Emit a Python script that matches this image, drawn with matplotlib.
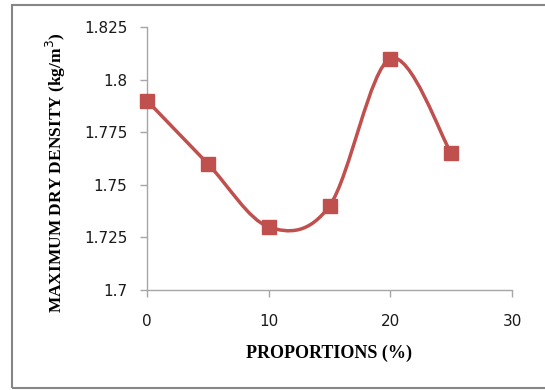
import numpy as np
import matplotlib.pyplot as plt
from matplotlib.path import Path
from matplotlib.patches import PathPatch, Rectangle

proportions = [0, 5, 10, 15, 20, 25]
max_dry_density = [1.79, 1.76, 1.73, 1.74, 1.81, 1.765]
x_ticks = [0, 10, 20, 30]
y_ticks = [1.7, 1.725, 1.75, 1.775, 1.8, 1.825]
y_tick_labels = ["1.7", "1.725", "1.75", "1.775", "1.8", "1.825"]

red = "#C0504D"
axis_grey = "#A6A6A6"

fig = plt.figure(figsize=(5.45, 3.9), dpi=100)
ax = fig.add_axes([147 / 545, 1 - 290 / 390, 365 / 545, 263 / 390])

# smoothed line: cubic bezier segments (catmull-rom style control points)
pts = np.column_stack([proportions, max_dry_density])
ext = np.vstack([pts[0], pts, pts[-1]])
verts = [tuple(pts[0])]
codes = [Path.MOVETO]
for i in range(len(pts) - 1):
    p0, p1, p2, p3 = ext[i], ext[i + 1], ext[i + 2], ext[i + 3]
    c1 = p1 + (p2 - p0) / 6
    c2 = p2 - (p3 - p1) / 6
    verts += [tuple(c1), tuple(c2), tuple(p2)]
    codes += [Path.CURVE4] * 3
ax.add_patch(PathPatch(Path(verts, codes), facecolor="none", edgecolor=red,
                       lw=2.5, capstyle="round", zorder=2, clip_on=False))
ax.plot(proportions, max_dry_density, ls="none", marker="s", ms=10,
        color=red, zorder=3, clip_on=False)

ax.set_xlim(0, 30)
ax.set_ylim(1.7, 1.825)
ax.set_xticks(x_ticks)
ax.set_yticks(y_ticks)
ax.set_yticklabels(y_tick_labels)

for side in ["top", "right"]:
    ax.spines[side].set_visible(False)
for side in ["left", "bottom"]:
    ax.spines[side].set_color(axis_grey)
    ax.spines[side].set_linewidth(1.0)
ax.tick_params(axis="both", direction="out", length=5, width=1.0,
               color=axis_grey, labelsize=11, labelcolor="#1a1a1a")
ax.tick_params(axis="x", pad=12)
ax.tick_params(axis="y", pad=9)
for lbl in ax.get_xticklabels() + ax.get_yticklabels():
    lbl.set_family("DejaVu Sans")

fig.text(329 / 545, 1 - 353 / 390, "PROPORTIONS (%)", family="Liberation Serif",
         weight="bold", fontsize=13, ha="center", va="center")
fig.text(56 / 545, 1 - 173 / 390, "MAXIMUM DRY DENSITY (kg/m$^3$)",
         family="Liberation Serif", weight="bold", fontsize=12.5,
         rotation=90, ha="center", va="center")

# chart-area frame
fig.patches.append(Rectangle((12 / 545, 2 / 390), 0.99, 383 / 390,
                             transform=fig.transFigure, fill=False,
                             edgecolor="#868686", lw=1.5))

fig.savefig("out.png", dpi=100)
